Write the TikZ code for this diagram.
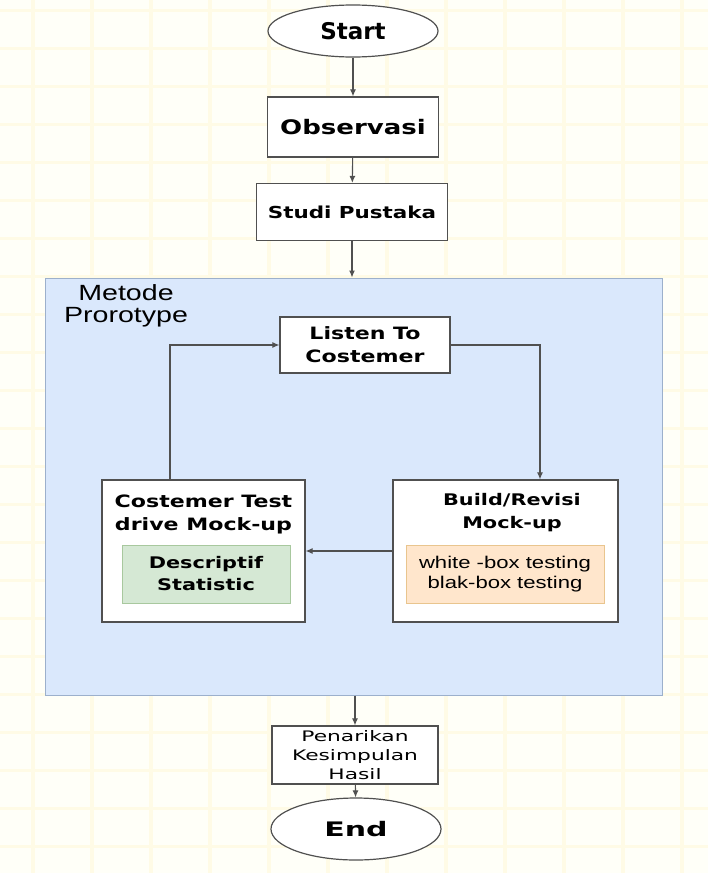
\documentclass[tikz,border=0pt]{standalone}
\usepackage{fontspec}
\setmainfont{DejaVu Sans}
\newfontfamily\boxfont[FakeStretch=1.3]{DejaVu Sans}
\newfontfamily\widefont[FakeStretch=1.5]{DejaVu Sans}
\newfontfamily\labelfont[FakeStretch=1.3]{Liberation Sans}
\usetikzlibrary{arrows.meta, shapes.geometric}

\definecolor{paper}{HTML}{FFFFF8}
\definecolor{gridline}{HTML}{FFFBE6}
\definecolor{poolfill}{HTML}{DAE8FC}
\definecolor{pooldraw}{HTML}{9CB0CC}
\definecolor{greenfill}{HTML}{D5E8D4}
\definecolor{greendraw}{HTML}{A8C89E}
\definecolor{orangefill}{HTML}{FFE6CC}
\definecolor{orangedraw}{HTML}{E9C58E}
\definecolor{linegray}{HTML}{505050}

\tikzset{
  flow/.style={draw=linegray, line width=1.1pt, -{Latex[length=7pt,width=6pt]}},
  stepbox/.style={rectangle, draw=linegray, line width=1.2pt, fill=white, align=center, inner sep=0pt},
  terminal/.style={ellipse, draw=linegray, line width=1.2pt, fill=white, inner sep=0pt},
  pool/.style={rectangle, draw=pooldraw, line width=1pt, fill=poolfill, inner sep=0pt},
}

\begin{document}
\begin{tikzpicture}[x=1pt, y=-1pt]
  \useasboundingbox (0,0) rectangle (708,873);
  % paper with faint grid
  \fill[paper] (0,0) rectangle (708,873);
  \foreach \gx in {33,92,...,708} \draw[gridline, line width=4pt] (\gx,0) -- (\gx,873);
  \foreach \gy in {10,48,...,873} \draw[gridline, line width=3pt] (0,\gy) -- (708,\gy);

  % prototype container
  \draw (353.5,486.5) node[pool, minimum width=617, minimum height=417] (proto) {};
  \draw (126,281) node[anchor=north, align=center, font=\labelfont\fontsize{22}{22}\selectfont] (protolabel) {Metode\\Prorotype};

  % main line
  \draw (353,31) node[terminal, minimum width=170, minimum height=52, font=\bfseries\fontsize{23}{26}\selectfont] (start) {Start};
  \draw (353,127) node[stepbox, minimum width=171, minimum height=60, font=\boxfont\bfseries\fontsize{20}{24}\selectfont] (obs) {Observasi};
  \draw (352,212) node[stepbox, minimum width=191, minimum height=57, font=\boxfont\bfseries\fontsize{16.5}{20}\selectfont] (studi) {Studi Pustaka};

  % prototype loop
  \draw (365,345) node[stepbox, minimum width=170, minimum height=56, font=\boxfont\bfseries\fontsize{17}{23}\selectfont] (listen) {Listen To\\Costemer};
  \draw (203.5,551) node[stepbox, minimum width=203, minimum height=142] (test) {};
  \draw (203.5,514) node[align=center, font=\boxfont\bfseries\fontsize{17}{23}\selectfont] (testtitle) {Costemer Test\\drive Mock-up};
  \draw (206,574) node[rectangle, draw=greendraw, fill=greenfill, line width=1pt, minimum width=168, minimum height=58, align=center, font=\boxfont\bfseries\fontsize{16}{22}\selectfont] (stat) {Descriptif\\Statistic};
  \draw (505.5,551) node[stepbox, minimum width=225, minimum height=142] (build) {};
  \draw (512,513) node[align=center, font=\boxfont\bfseries\fontsize{16}{23}\selectfont] (buildtitle) {Build/Revisi\\Mock-up};
  \draw (505,574) node[rectangle, draw=orangedraw, fill=orangefill, line width=1pt, minimum width=198, minimum height=58, align=center, font=\labelfont\fontsize{17}{20}\selectfont] (boxtest) {white -box testing\\blak-box testing};

  % end line
  \draw (355,755) node[stepbox, minimum width=166, minimum height=58, font=\widefont\fontsize{14.5}{19}\selectfont] (hasil) {Penarikan\\Kesimpulan\\Hasil};
  \draw (356,829) node[terminal, minimum width=170, minimum height=62, font=\widefont\bfseries\fontsize{20}{24}\selectfont] (end) {End};

  % connectors
  \path [flow] (start) -- (obs);
  \path [flow] (obs) -- (studi);
  \path [flow] (studi) -- (studi |- proto.north);
  \path [flow] (listen.east) -| ([xshift=34.5]build.north);
  \path [flow] (build.west) -- (test.east);
  \path [flow] ([xshift=-33.5]test.north) |- (listen.west);
  \path [flow] (proto.south -| hasil) -- (hasil);
  \path [flow] (hasil) -- (end);
\end{tikzpicture}
\end{document}
